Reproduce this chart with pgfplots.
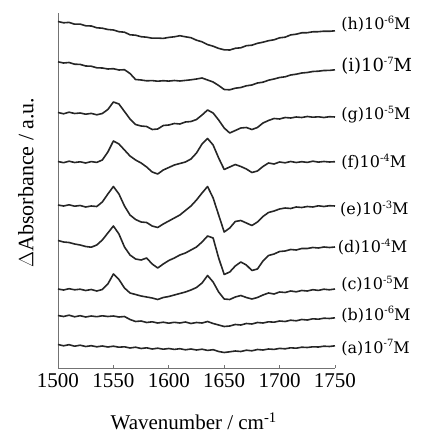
\documentclass[border=0pt]{standalone}
\usepackage{fontspec}
\setmainfont{Liberation Serif}
\newfontfamily\lblfont{DejaVu Serif}
\usepackage{pgfplots}
\pgfplotsset{compat=1.18}
\tikzset{
  lbl/.style={anchor=base west, inner sep=0pt},
  trace/.style={black!85, line width=1.6pt, line join=round, mark=none},
}
\newcommand\supx[1]{\raisebox{0.42em}{\fontsize{10}{10}\selectfont #1}}

\begin{document}
\begin{tikzpicture}
\useasboundingbox (-58pt,-66pt) rectangle (372pt,368pt);
\begin{axis}[
  scale only axis,
  width=277pt, height=355pt,
  xmin=1500, xmax=1750, ymin=0, ymax=355,
  axis lines*=left,
  axis line style={black!55, line width=0.8pt},
  xtick={1500,1550,...,1750},
  ytick=\empty,
  tick align=inside,
  major tick length=3pt,
  tick style={black!55, line width=0.6pt},
  /pgf/number format/assume math mode=true,
  /pgf/number format/1000 sep={},
  xticklabel style={font=\fontsize{21}{24}\selectfont, yshift=-2.5pt},
  xlabel={Wavenumber / cm\textsuperscript{-1}},
  xlabel style={font=\fontsize{21}{24}\selectfont, at={(axis description cs:0.49,0)}, anchor=north, yshift=-41pt},
  ylabel={$\Delta$Absorbance / a.u.},
  ylabel style={font=\fontsize{22}{24}\selectfont, at={(axis description cs:-0.075,0.5225)}, anchor=south},
  clip=false,
]
% (h)
\addplot[trace] coordinates {
(1500,346.5)(1505,345.2)(1510,345.6)(1515,343.8)(1520,343.9)(1525,342.2)(1530,342.0)(1535,340.2)(1540,339.8)(1545,338.5)
(1550,338.0)(1555,336.3)(1560,335.8)(1565,333.2)(1570,332.8)(1575,331.3)(1580,330.8)(1585,329.8)(1590,329.9)(1595,329.6)
(1600,330.6)(1605,331.2)(1610,332.3)(1615,331.2)(1620,330.3)(1625,327.8)(1630,326.2)(1635,323.4)(1640,321.8)(1645,319.6)
(1650,318.2)(1655,318.0)(1660,319.7)(1665,320.2)(1670,322.3)(1675,322.8)(1680,324.7)(1685,325.8)(1690,327.3)(1695,328.2)
(1700,330.2)(1705,330.8)(1710,333.1)(1715,333.8)(1720,335.2)(1725,335.3)(1730,336.2)(1735,336.3)(1740,336.8)(1745,336.7)(1750,337.2)
};
% (i)
\addplot[trace] coordinates {
(1500,306.2)(1505,305.0)(1510,305.5)(1515,303.8)(1520,303.6)(1525,302.0)(1530,301.8)(1535,300.2)(1540,300.0)(1545,299.0)
(1550,299.3)(1555,298.0)(1560,298.3)(1565,294.5)(1570,288.5)(1575,288.0)(1580,287.2)(1585,287.4)(1590,286.8)(1595,287.3)
(1600,286.9)(1605,287.5)(1610,287.0)(1615,287.6)(1620,288.2)(1625,289.0)(1630,290.0)(1635,288.0)(1640,286.0)(1645,282.5)
(1650,278.5)(1655,278.2)(1660,279.8)(1665,280.5)(1670,282.2)(1675,283.0)(1680,285.0)(1685,285.8)(1690,287.8)(1695,289.0)
(1700,290.5)(1705,291.2)(1710,293.0)(1715,293.8)(1720,295.0)(1725,295.5)(1730,296.5)(1735,296.8)(1740,297.5)(1745,297.6)(1750,298.2)
};
% (g)
\addplot[trace] coordinates {
(1500,255.5)(1505,254.2)(1510,255.8)(1515,254.5)(1520,255.0)(1525,253.8)(1530,254.6)(1535,253.2)(1540,254.5)(1545,258.5)
(1550,266.0)(1555,264.0)(1560,256.5)(1565,249.0)(1570,243.5)(1575,242.0)(1580,241.5)(1585,238.5)(1590,239.0)(1595,242.5)
(1600,243.0)(1605,244.5)(1610,244.0)(1615,246.0)(1620,246.5)(1625,248.5)(1630,253.0)(1635,258.0)(1640,255.0)(1645,248.0)
(1650,240.0)(1655,235.0)(1660,237.5)(1665,240.0)(1670,240.5)(1675,238.5)(1680,240.5)(1685,245.0)(1690,247.5)(1695,249.5)
(1700,249.0)(1705,250.5)(1710,250.0)(1715,251.0)(1720,250.5)(1725,251.5)(1730,250.8)(1735,251.2)(1740,250.5)(1745,251.3)(1750,251.0)
};
% (f)
\addplot[trace] coordinates {
(1500,206.5)(1505,205.3)(1510,206.8)(1515,205.5)(1520,206.2)(1525,205.0)(1530,206.4)(1535,205.6)(1540,208.0)(1545,216.0)
(1550,227.0)(1555,224.0)(1560,218.0)(1565,212.0)(1570,208.0)(1575,205.0)(1580,201.0)(1585,196.0)(1590,194.0)(1595,198.0)
(1600,200.5)(1605,203.0)(1610,204.5)(1615,206.0)(1620,209.0)(1625,215.0)(1630,224.0)(1635,229.5)(1640,223.0)(1645,210.0)
(1650,198.5)(1655,201.0)(1660,203.5)(1665,201.5)(1670,199.0)(1675,195.5)(1680,197.0)(1685,201.5)(1690,205.0)(1695,204.0)
(1700,206.0)(1705,205.2)(1710,206.5)(1715,205.5)(1720,206.3)(1725,205.6)(1730,206.8)(1735,205.9)(1740,206.5)(1745,206.0)(1750,206.3)
};
% (e)
\addplot[trace] coordinates {
(1500,163.0)(1505,162.0)(1510,163.2)(1515,161.8)(1520,162.5)(1525,161.0)(1530,162.0)(1535,161.5)(1540,166.0)(1545,174.0)
(1550,181.5)(1555,174.0)(1560,162.0)(1565,153.0)(1570,148.5)(1575,146.0)(1580,145.5)(1585,142.0)(1590,140.5)(1595,144.0)
(1600,147.0)(1605,150.0)(1610,153.0)(1615,157.5)(1620,162.0)(1625,168.0)(1630,175.0)(1635,181.5)(1640,170.0)(1645,153.0)
(1650,136.0)(1655,140.0)(1660,146.5)(1665,147.5)(1670,145.0)(1675,142.5)(1680,146.0)(1685,151.5)(1690,155.5)(1695,157.0)
(1700,159.0)(1705,160.0)(1710,159.5)(1715,161.0)(1720,160.5)(1725,161.5)(1730,161.0)(1735,162.2)(1740,161.5)(1745,162.3)(1750,162.0)
};
% (d)
\addplot[trace] coordinates {
(1500,127.5)(1505,126.0)(1510,125.5)(1515,124.0)(1520,123.0)(1525,121.5)(1530,120.8)(1535,123.0)(1540,128.0)(1545,135.0)
(1550,142.0)(1555,134.0)(1560,121.0)(1565,113.0)(1570,109.0)(1575,108.0)(1580,110.0)(1585,104.0)(1590,100.0)(1595,104.0)
(1600,107.5)(1605,110.0)(1610,113.0)(1615,115.0)(1620,118.0)(1625,121.0)(1630,126.0)(1635,132.0)(1640,130.0)(1645,110.0)
(1650,93.5)(1655,96.0)(1660,102.0)(1665,106.0)(1670,103.0)(1675,97.5)(1680,99.0)(1685,107.0)(1690,112.5)(1695,114.0)
(1700,116.5)(1705,117.0)(1710,118.5)(1715,118.0)(1720,119.5)(1725,119.5)(1730,120.5)(1735,120.0)(1740,121.0)(1745,120.5)(1750,121.0)
};
% (c)
\addplot[trace] coordinates {
(1500,79.0)(1505,78.0)(1510,79.3)(1515,78.2)(1520,78.8)(1525,77.5)(1530,78.5)(1535,77.0)(1540,78.5)(1545,84.0)
(1550,94.0)(1555,88.5)(1560,80.0)(1565,75.0)(1570,73.5)(1575,72.0)(1580,71.0)(1585,70.0)(1590,68.5)(1595,70.5)
(1600,71.5)(1605,73.0)(1610,74.5)(1615,76.0)(1620,78.0)(1625,80.5)(1630,85.0)(1635,92.5)(1640,86.0)(1645,76.0)
(1650,69.0)(1655,68.5)(1660,71.0)(1665,72.5)(1670,70.5)(1675,69.0)(1680,70.5)(1685,73.0)(1690,75.0)(1695,74.0)
(1700,76.0)(1705,75.5)(1710,77.0)(1715,76.2)(1720,77.5)(1725,77.0)(1730,78.3)(1735,77.6)(1740,78.8)(1745,78.2)(1750,79.0)
};
% (b)
\addplot[trace] coordinates {
(1500,52.5)(1505,51.5)(1510,52.8)(1515,51.2)(1520,52.3)(1525,51.0)(1530,52.0)(1535,51.3)(1540,52.2)(1545,51.5)
(1550,52.0)(1555,51.0)(1560,51.5)(1565,48.5)(1570,46.5)(1575,47.0)(1580,45.5)(1585,46.2)(1590,45.0)(1595,45.8)
(1600,44.8)(1605,45.7)(1610,45.0)(1615,46.0)(1620,44.5)(1625,45.5)(1630,45.0)(1635,46.5)(1640,44.5)(1645,43.0)
(1650,41.5)(1655,42.0)(1660,43.5)(1665,43.0)(1670,44.5)(1675,44.0)(1680,45.5)(1685,45.0)(1690,46.2)(1695,45.8)
(1700,47.0)(1705,46.5)(1710,47.8)(1715,47.2)(1720,48.5)(1725,48.0)(1730,49.2)(1735,48.8)(1740,49.8)(1745,49.5)(1750,50.2)
};
% (a)
\addplot[trace] coordinates {
(1500,23.5)(1505,22.2)(1510,23.3)(1515,21.8)(1520,22.8)(1525,21.5)(1530,22.3)(1535,21.2)(1540,22.0)(1545,21.0)
(1550,21.8)(1555,20.8)(1560,21.2)(1565,20.0)(1570,20.8)(1575,19.5)(1580,20.2)(1585,19.0)(1590,19.8)(1595,18.8)
(1600,19.5)(1605,18.6)(1610,19.3)(1615,18.2)(1620,19.0)(1625,18.0)(1630,18.8)(1635,17.6)(1640,18.3)(1645,16.5)
(1650,15.5)(1655,16.2)(1660,17.0)(1665,16.5)(1670,17.8)(1675,17.2)(1680,18.5)(1685,18.0)(1690,19.0)(1695,18.6)
(1700,19.6)(1705,19.2)(1710,20.2)(1715,19.8)(1720,20.8)(1725,20.5)(1730,21.2)(1735,21.0)(1740,21.8)(1745,21.5)(1750,22.2)
};
\node[lbl] at (axis cs:1755.5,338) {\lblfont\fontsize{16}{18}\selectfont (h)10\supx{-6}M};
\node[lbl] at (axis cs:1755.5,296) {\lblfont\fontsize{18}{20}\selectfont (i)10\supx{-7}M};
\node[lbl] at (axis cs:1755.5,248) {\lblfont\fontsize{16}{18}\selectfont (g)10\supx{-5}M};
\node[lbl] at (axis cs:1755.5,200) {\lblfont\fontsize{16}{18}\selectfont (f)10\supx{-4}M};
\node[lbl] at (axis cs:1754.5,153) {\lblfont\fontsize{16}{18}\selectfont (e)10\supx{-3}M};
\node[lbl] at (axis cs:1752.5,115) {\lblfont\fontsize{16}{18}\selectfont (d)10\supx{-4}M};
\node[lbl] at (axis cs:1755.5,78) {\lblfont\fontsize{16}{18}\selectfont (c)10\supx{-5}M};
\node[lbl] at (axis cs:1755.5,48) {\lblfont\fontsize{16}{18}\selectfont (b)10\supx{-6}M};
\node[lbl] at (axis cs:1755.5,15) {\lblfont\fontsize{16}{18}\selectfont (a)10\supx{-7}M};
\end{axis}
\end{tikzpicture}
\end{document}
